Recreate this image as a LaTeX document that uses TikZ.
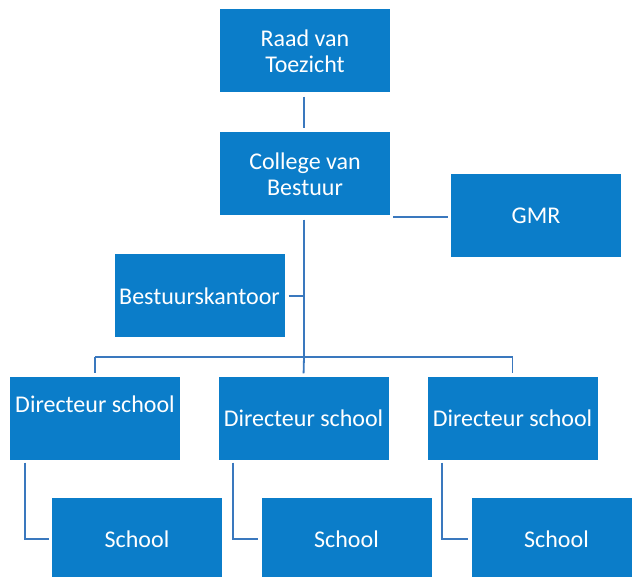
\documentclass[tikz,border=0pt]{standalone}
\usepackage{fontspec}
\setmainfont{Carlito}
\definecolor{boxblue}{HTML}{0B7DC9}
\definecolor{lineblue}{HTML}{3A78BE}
\begin{document}
\begin{tikzpicture}[x=1pt,y=-1pt,
  orgbox/.style={rectangle, fill=boxblue, draw=none, minimum width=170pt, minimum height=83pt,
    inner sep=0pt, text=white, align=center, font=\fontsize{24}{26}\selectfont},
  boxtext/.style={text=white, inner sep=0pt, font=\fontsize{24}{26}\selectfont},
  conn/.style={draw=lineblue, line width=1.8pt}]
\useasboundingbox (0,0) rectangle (632,577);
\clip (0,0) rectangle (632,577);
% boxes
\node[orgbox] (raad) at (305,51) {Raad van\\Toezicht};
\node[orgbox] (cvb) at (305,174) {College van\\Bestuur};
\node[orgbox] (gmr) at (536,216) {GMR};
\node[orgbox] (bk) at (199.5,296) {Bestuurskantoor};
\node[orgbox] (d1) at (95,418) {};
\node[boxtext] (d1t) at (95,404) {Directeur school};
\node[orgbox] (d2) at (303.5,418) {Directeur school};
\node[orgbox] (d3) at (512.5,418) {Directeur school};
\node[orgbox] (s1) at (137,539) {School};
\node[orgbox] (s2) at (346.5,539) {School};
\node[orgbox] (s3) at (556.5,539) {School};
% helper coordinates
\coordinate (bar) at (304,357);
\coordinate (barL) at (95,357);
\coordinate (barR) at (512,357);
% connectors
\draw[conn, shorten <=4pt, shorten >=4pt] ([xshift=-1pt]raad.south) -- ([xshift=-1pt]cvb.north);
\draw[conn, shorten <=3pt, shorten >=3pt] ([yshift=-1pt]cvb.south east) -- ([yshift=-1pt]gmr.west |- cvb.south east);
\draw[conn, shorten <=4pt] ([xshift=-1pt]cvb.south) -- (bar);
\draw[conn, shorten <=4pt] (bk.east) -- (bk.east -| bar);
\draw[conn] (d1.north |- barL) -- (barR -| d3.north);
\draw[conn, shorten >=3pt] (d1.north |- barL) -- (d1.north);
\draw[conn, shorten >=3pt] (bar) -- (d2.north);
\draw[conn, shorten >=3pt] (d3.north |- barR) -- (d3.north);
\draw[conn, shorten <=3pt, shorten >=3pt] ([xshift=15pt]d1.south west) |- (s1.west);
\draw[conn, shorten <=3pt, shorten >=3pt] ([xshift=15pt]d2.south west) |- (s2.west);
\draw[conn, shorten <=3pt, shorten >=3pt] ([xshift=15pt]d3.south west) |- (s3.west);
\end{tikzpicture}
\end{document}
